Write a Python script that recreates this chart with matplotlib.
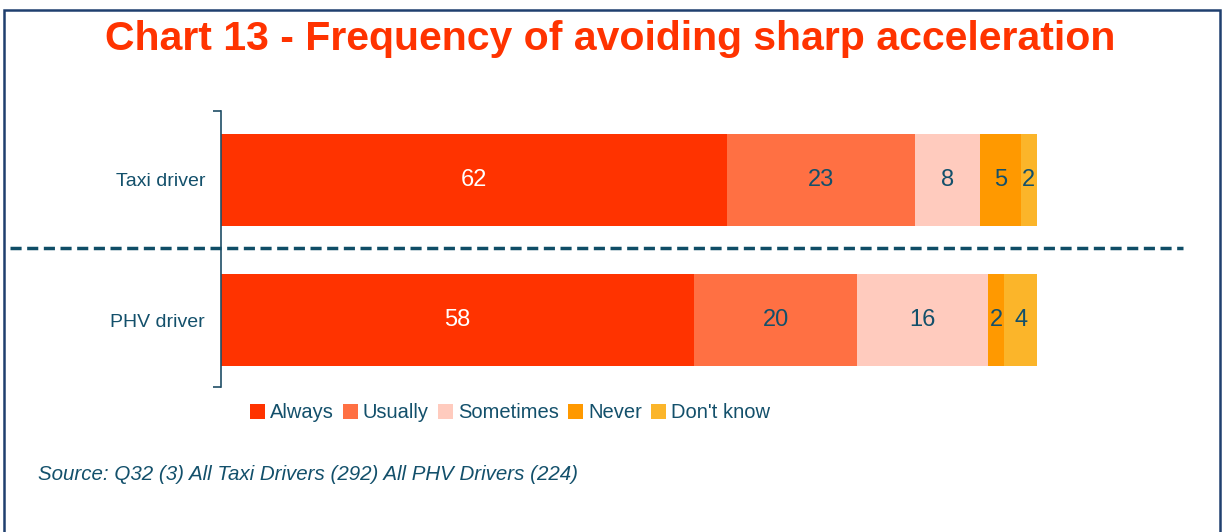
import matplotlib.pyplot as plt
from matplotlib.patches import Rectangle
import numpy as np

plt.rcParams['font.family'] = ['Liberation Sans', 'DejaVu Sans']

categories = ['Taxi driver', 'PHV driver']
responses = ['Always', 'Usually', 'Sometimes', 'Never', "Don't know"]
values = {
    'Always': [62, 58],
    'Usually': [23, 20],
    'Sometimes': [8, 16],
    'Never': [5, 2],
    "Don't know": [2, 4],
}
colors = ['#FF3300', '#FF7043', '#FFCBBE', '#FF9900', '#FBB52A']
label_colors = ['white', '#13506B', '#13506B', '#13506B', '#13506B']
text_color = '#13506B'

W, H = 1224, 532
fig = plt.figure(figsize=(W / 100, H / 100), dpi=100)

# axes placed in pixel terms: x 221..1183, y 111..387
ax = fig.add_axes([221 / W, 1 - 387 / H, (1183 - 221) / W, (387 - 111) / H])

y = np.arange(len(categories))
left = np.zeros(len(categories))
for resp, col, lcol in zip(responses, colors, label_colors):
    vals = np.array(values[resp], dtype=float)
    bars = ax.barh(y, vals, left=left, height=0.657, color=col, label=resp)
    for b, v in zip(bars, vals):
        ax.text(b.get_x() + b.get_width() / 2, b.get_y() + b.get_height() / 2,
                f'{v:.0f}', ha='center', va='center', fontsize=17, color=lcol)
    left += vals

ax.set_xlim(0, 117.9)
ax.set_ylim(1.475, -0.49)
ax.set_yticks(y)
ax.set_yticklabels(categories, fontsize=14, color=text_color)
ax.tick_params(axis='y', length=0, pad=11.5)
ax.set_yticks([-0.49, 1.475], minor=True)
ax.tick_params(axis='y', which='minor', length=6, width=1.2, color='#1F4E66')
ax.set_xticks([])
for s in ['top', 'right', 'bottom']:
    ax.spines[s].set_visible(False)
ax.spines['left'].set_color('#1F4E66')
ax.spines['left'].set_linewidth(1.2)

# dashed separator between the two groups
fig.add_artist(plt.Line2D([10 / W, 1183 / W], [1 - 248 / H, 1 - 248 / H],
                          color='#0F4D66', lw=2.5, ls=(0, (3.2, 1.6))))

# title
fig.text(610 / W, 1 - 39 / H, 'Chart 13 - Frequency of avoiding sharp acceleration',
         ha='center', va='center', fontsize=29.5, fontweight='bold', color='#FF3300')

# legend
handles, labels = ax.get_legend_handles_labels()
fig.legend(handles, labels, loc='center', bbox_to_anchor=(510 / W, 1 - 413 / H),
           ncol=5, frameon=False, fontsize=14.5, handlelength=0.75, handleheight=0.75,
           handletextpad=0.25, columnspacing=0.45, labelcolor=text_color)

# source note
fig.text(38 / W, 1 - 474 / H, 'Source: Q32 (3) All Taxi Drivers (292) All PHV Drivers (224)',
         ha='left', va='center', fontsize=14.8, style='italic', color=text_color)

# outer frame
fig.add_artist(Rectangle((4 / W, -0.05), (1220 - 4) / W, 1.05 - 10 / H,
                         transform=fig.transFigure, fill=False,
                         edgecolor='#1F3F6E', lw=1.8))

fig.savefig('out.png', dpi=100)
